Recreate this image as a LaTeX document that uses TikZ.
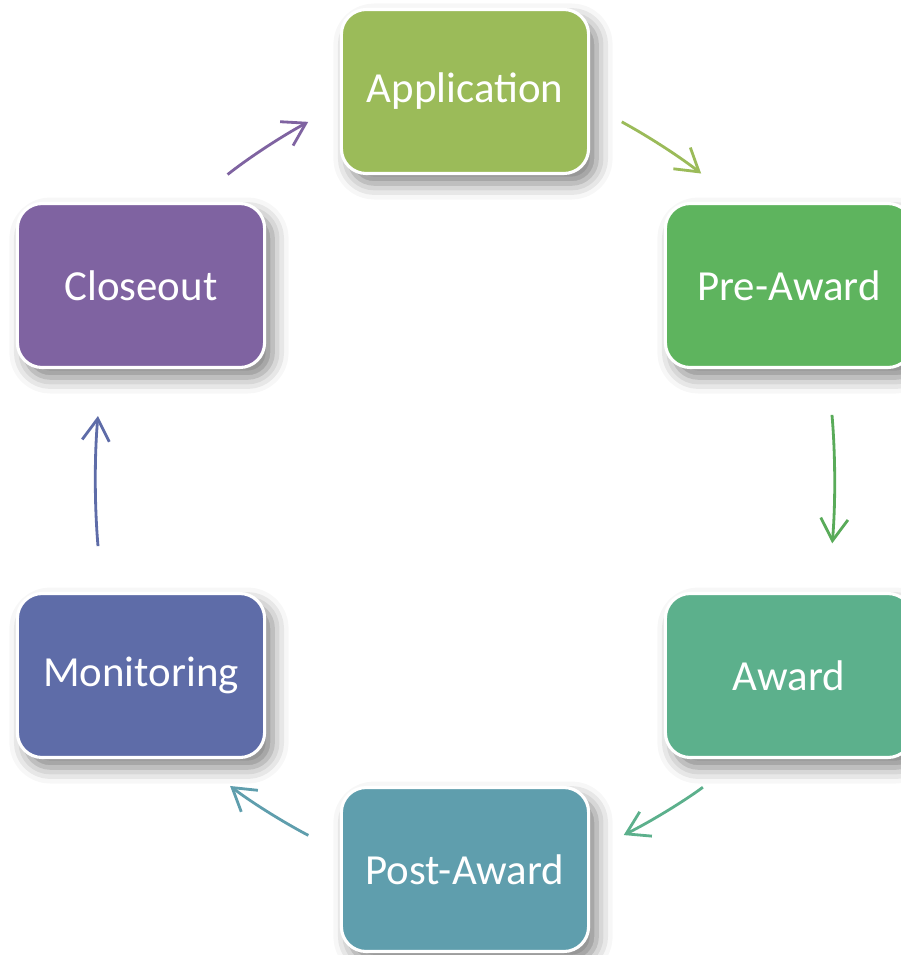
\documentclass[tikz,border=0pt]{standalone}
\usepackage{fontspec}
\setmainfont{Carlito}
\usepackage{xcolor}
\usepackage{tikz}
\usetikzlibrary{arrows.meta, shadows.blur}

\definecolor{appgreen}{HTML}{9BBB59}
\definecolor{pregreen}{HTML}{5EB45E}
\definecolor{awardgreen}{HTML}{5CB08C}
\definecolor{postteal}{HTML}{5F9EAD}
\definecolor{monblue}{HTML}{5E6CA8}
\definecolor{closepurple}{HTML}{7F63A1}

\begin{document}
\begin{tikzpicture}[node distance=8.1cm]
    \tikzstyle{stage} = [rectangle, rounded corners=0.62cm, minimum width=6.18cm, minimum height=4.1cm, text centered, draw=white, line width=2.2pt, text=white, font=\fontsize{30.5}{35}\selectfont, blur shadow={shadow xshift=0.2cm, shadow yshift=-0.25cm, shadow blur radius=0.4cm, shadow opacity=50}]
    \tikzstyle{flow} = [line width=2pt, -{Straight Barb[length=0.55cm, width=0.68cm]}, bend left=5]

    \useasboundingbox (-11.625,2.2875) rectangle (10.9,-21.5875);

    % Stages
    \node [stage, fill=appgreen] (app) at (0,0) {Application};
    \node [stage, fill=pregreen, right of=app, yshift=-4.85cm] (pre) {Pre-Award};
    \node [stage, fill=closepurple, left of=app, yshift=-4.85cm] (close) {Closeout};
    \node [stage, fill=awardgreen, below of=pre, yshift=-1.65cm] (award) {Award};
    \node [stage, fill=monblue, below of=close, yshift=-1.65cm] (mon) {Monitoring};
    \node [stage, fill=postteal, below of=app, yshift=-11.35cm] (post) {Post-Award};

    % Cycle
    \draw [flow, closepurple, shorten <=1.1cm, shorten >=0.9cm] (close.58) to (app.186);
    \draw [flow, appgreen, shorten <=0.9cm, shorten >=1.14cm] (app.-6) to (pre.122);
    \draw [flow, pregreen!95!black, shorten <=1.15cm, shorten >=1.22cm] (pre.-65) to (award.65);
    \draw [flow, awardgreen, shorten <=1.18cm, shorten >=0.94cm] (award.240) to (post.8);
    \draw [flow, postteal, shorten <=0.89cm, shorten >=1.1cm] (post.172) to (mon.-57);
    \draw [flow, monblue, shorten <=1.15cm, shorten >=1.18cm] (mon.115) to (close.245);
\end{tikzpicture}
\end{document}
